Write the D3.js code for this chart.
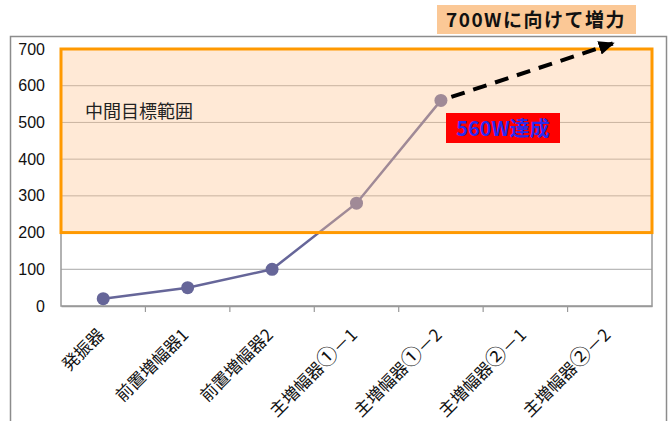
<!DOCTYPE html>
<html lang="ja"><head><meta charset="utf-8">
<script src="https://cdn.jsdelivr.net/npm/d3@7"></script>
<style>body{margin:0;background:#fff}svg{display:block}</style>
</head><body>
<svg id="c" width="669" height="421"></svg>
<script>
const categories = ["発振器","前置増幅器1","前置増幅器2","主増幅器①－1","主増幅器①－2","主増幅器②－1","主増幅器②－2"];
const values = [20, 50, 100, 280, 560];
const yTicks = [0, 100, 200, 300, 400, 500, 600, 700];
const targetRange = [200, 700];
const arrowTo = {category: "主増幅器②－2", value: 715};
const rangeLabel = "中間目標範囲";
const achievedLabel = "560W達成";
const goalLabel = "700Wに向けて増力";

const svg = d3.select("#c");
const L = 61, R = 652, T = 49, B = 306;
const x = d3.scaleBand().domain(categories).range([L, R]);
const y = d3.scaleLinear().domain([0, 700]).range([B, T]);
const cx = c => x(c) + x.bandwidth() / 2;
const jp = "'Noto Sans CJK JP', sans-serif";

// outer frame
svg.append("rect").attr("x", 10.5).attr("y", 36.5).attr("width", 656).attr("height", 400)
  .attr("fill", "none").attr("stroke", "#8c8c8c").attr("stroke-width", 1.5);

// gridlines
svg.append("g").selectAll("line").data(yTicks.filter(d => d > 0)).join("line")
  .attr("x1", L).attr("x2", R).attr("y1", d => y(d)).attr("y2", d => y(d))
  .attr("stroke", "#a8a8a8").attr("stroke-width", 1);

// plot border
svg.append("rect").attr("x", L).attr("y", T).attr("width", R - L).attr("height", B - T)
  .attr("fill", "none").attr("stroke", "#999").attr("stroke-width", 1.5);

// y axis labels
const ya = svg.append("g").attr("transform", `translate(${L},0)`)
  .call(d3.axisLeft(y).tickValues(yTicks).tickSize(0).tickPadding(16));
ya.select(".domain").remove();
ya.selectAll("text").attr("font-family", "'Liberation Sans', Arial, sans-serif").attr("font-size", 16).attr("fill", "#111");

// x axis
const xa = svg.append("g").attr("transform", `translate(0,${B})`)
  .call(d3.axisBottom(x).tickSize(0).tickFormat(""));
xa.select(".domain").attr("stroke", "#999").attr("stroke-width", 1.5);
svg.append("g").selectAll("line").data(categories.slice(1)).join("line")
  .attr("x1", d => x(d)).attr("x2", d => x(d)).attr("y1", B).attr("y2", B + 6)
  .attr("stroke", "#999").attr("stroke-width", 1.2);
const xl = svg.append("g").selectAll("text").data(categories).join("text")
  .attr("transform", d => `translate(${cx(d) + 2},${B + 30}) rotate(-45)`)
  .attr("text-anchor", "end").attr("font-family", jp).attr("font-size", 17)
  .attr("fill", "#111");
xl.each(function(d) {
  const t = d3.select(this);
  d.split(/([①②])/).filter(s => s).forEach(s => {
    const ts = t.append("tspan").text(s);
    if (/[①②]/.test(s)) ts.attr("font-size", 21);
  });
});

// data line
const pts = values.map((v, i) => [cx(categories[i]), y(v)]);
svg.append("path").attr("d", d3.line()(pts)).attr("fill", "none")
  .attr("stroke", "#666699").attr("stroke-width", 2.5);
svg.append("g").selectAll("circle").data(pts).join("circle")
  .attr("cx", d => d[0]).attr("cy", d => d[1]).attr("r", 6.5).attr("fill", "#666699");

// target range overlay
svg.append("rect").attr("x", L).attr("y", y(targetRange[1])).attr("width", R - L)
  .attr("height", y(targetRange[0]) - y(targetRange[1]))
  .attr("fill", "rgb(255,197,147)").attr("fill-opacity", 0.38)
  .attr("stroke", "#ff9900").attr("stroke-width", 3);

svg.append("text").attr("x", 85).attr("y", 118).attr("font-family", jp).attr("font-size", 18)
  .attr("fill", "#222").text(rangeLabel);

// 560W box
svg.append("rect").attr("x", 446).attr("y", 113).attr("width", 114).attr("height", 30).attr("fill", "#ff0000");
svg.append("text").attr("x", 503).attr("y", 136).attr("text-anchor", "middle")
  .attr("font-family", jp).attr("font-size", 20).attr("font-weight", "bold")
  .attr("fill", "#2a2aee").text(achievedLabel);

// dashed arrow
const defs = svg.append("defs");
defs.append("marker").attr("id", "ah").attr("markerUnits", "userSpaceOnUse")
  .attr("viewBox", "0 0 16 14").attr("refX", 14).attr("refY", 7)
  .attr("markerWidth", 16).attr("markerHeight", 14).attr("orient", "auto")
  .append("path").attr("d", "M0,0 L16,7 L0,14 Z").attr("fill", "#000");
const p5 = pts[pts.length - 1];
const end = [cx(arrowTo.category) + 3, y(arrowTo.value)];
const ang = Math.atan2(end[1] - p5[1], end[0] - p5[0]);
const start = [p5[0] + 11 * Math.cos(ang), p5[1] + 11 * Math.sin(ang)];
svg.append("line").attr("x1", start[0]).attr("y1", start[1]).attr("x2", end[0]).attr("y2", end[1])
  .attr("stroke", "#000").attr("stroke-width", 4).attr("stroke-dasharray", "14,9")
  .attr("marker-end", "url(#ah)");

// goal box
svg.append("rect").attr("x", 437).attr("y", 5).attr("width", 199).attr("height", 29).attr("fill", "#fbc896");
svg.append("text").attr("x", 536).attr("y", 27).attr("text-anchor", "middle")
  .attr("font-family", jp).attr("font-size", 19).attr("font-weight", "bold")
  .attr("letter-spacing", 1.5).attr("fill", "#111").text(goalLabel);
</script>
</body></html>
